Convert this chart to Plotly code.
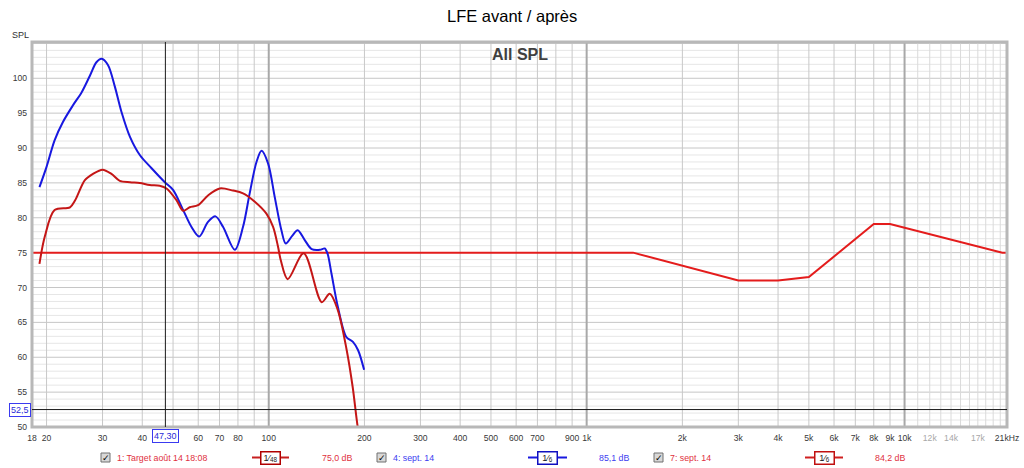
import math
import plotly.graph_objects as go

# ---------------- data ----------------
target_freq = [18, 1400, 3000, 4000, 5000, 8000, 9000, 20300, 21000]
target_spl = [75.0, 75.0, 71.0, 71.0, 71.5, 79.1, 79.1, 75.0, 75.0]

m4_freq = [19.0, 20.0, 21.2, 22.5, 24.2, 25.8, 27.4, 28.7, 29.8, 31.2, 32.8, 34.4, 36.6,
           39.3, 42.8, 47.1, 50.0, 53.8, 57.1, 60.4, 64.4, 68.0, 71.8, 78.2, 83.0, 87.1,
           91.5, 94.9, 99.5, 104.4, 109.6, 113.1, 118.5, 123.3, 129.8, 136.5, 145, 150,
           153, 157.5, 165, 175.4, 184, 191, 199.5]
m4_spl = [84.4, 87.3, 91.1, 93.7, 96.1, 98.0, 100.4, 102.3, 102.8, 101.9, 98.8, 95.2, 91.6,
          89.0, 87.1, 85.1, 84.0, 81.1, 78.7, 77.3, 79.4, 80.2, 78.7, 75.4, 78.7, 83.5,
          88.0, 89.6, 87.8, 83.0, 78.2, 76.3, 77.4, 78.2, 76.8, 75.5, 75.4, 75.6,
          74.9, 72.0, 67.2, 62.9, 62.2, 61.0, 58.2]

m7_freq = [19.0, 19.75, 21.2, 23.7, 24.6, 26.4, 28.0, 30.0, 32.0, 34.0, 36.6, 39.3, 42.2,
           45.4, 47.7, 51.3, 53.8, 56.4, 59.9, 64.4, 70.1, 77.2, 83.0, 90.4, 98.3, 103.2,
           107.0, 109.1, 114.7, 128.8, 146.8, 155.5, 164.8, 175.9, 183.7, 190.5, 194.7]
m7_spl = [73.4, 77.3, 81.1, 81.5, 82.5, 85.4, 86.3, 86.9, 86.3, 85.3, 85.1, 85.0, 84.7,
          84.6, 84.2, 82.5, 81.0, 81.5, 81.8, 83.2, 84.2, 83.9, 83.5, 82.3, 80.6, 78.7,
          75.8, 73.9, 71.2, 74.9, 67.9, 69.1, 66.8, 61.0, 55.7, 50.0, 47.9]

x_tick_vals = [18, 20, 30, 40, 60, 70, 80, 100, 200, 300, 400, 500, 600, 700, 900, 1000,
               2000, 3000, 4000, 5000, 6000, 7000, 8000, 9000, 10000, 12000, 14000, 17000, 21000]
x_tick_text = ["18", "20", "30", "40", "60", "70", "80", "100", "200", "300", "400", "500",
               "600", "700", "900", "1k", "2k", "3k", "4k", "5k", "6k", "7k", "8k", "9k",
               "10k", "12k", "14k", "17k", "21kHz"]
x_tick_faded = ["12k", "14k", "17k"]
y_tick_vals = [50, 55, 60, 65, 70, 75, 80, 85, 90, 95, 100]

legend_names = ["1: Target août 14 18:08", "4: sept. 14", "7: sept. 14"]
legend_smoothing = ["1/48", "1/6", "1/6"]
legend_levels = ["75,0 dB", "85,1 dB", "84,2 dB"]

cursor_freq = 47.3
cursor_spl = 52.5
cursor_freq_label = "47,30"
cursor_spl_label = "52,5"

title_text = "LFE avant / après"
inner_title = "All SPL"
y_label = "SPL"

# ---------------- styling / geometry ----------------
W, H = 1024, 468
L, R, T, B = 32, 17, 42, 41
PW, PH = W - L - R, H - T - B
FONT = "Liberation Sans, Arial, sans-serif"

BLUE = "#1818e0"
RED_M = "#c41616"
RED_T = "#e41c1c"
RED_TXT = "#e03040"
BLUE_TXT = "#3c3cf0"


def px(x):
    return (x - L) / PW


def py(y):
    return (H - B - y) / PH


fig = go.Figure()
fig.add_trace(go.Scatter(x=target_freq, y=target_spl, mode="lines",
                         line=dict(color=RED_T, width=2), hoverinfo="skip", showlegend=False))
fig.add_trace(go.Scatter(x=m4_freq, y=m4_spl, mode="lines",
                         line=dict(color=BLUE, width=2, shape="spline", smoothing=0.9),
                         hoverinfo="skip", showlegend=False))
fig.add_trace(go.Scatter(x=m7_freq, y=m7_spl, mode="lines",
                         line=dict(color=RED_M, width=2, shape="spline", smoothing=0.9),
                         hoverinfo="skip", showlegend=False))

shapes = []
# horizontal grid
for v in range(51, 106):
    major = v % 5 == 0
    shapes.append(dict(type="line", xref="paper", yref="y", x0=0, x1=1, y0=v, y1=v,
                       line=dict(color="#c6c6c6" if major else "#e6e6e6", width=1),
                       layer="below"))
# vertical grid
for dec in [10, 100, 1000]:
    for k in range(2, 10):
        f = k * dec
        if f < 18:
            continue
        shapes.append(dict(type="line", xref="x", yref="paper", x0=f, x1=f, y0=0, y1=1,
                           line=dict(color="#c8c8c8", width=1), layer="below"))
for f in [100, 1000, 10000]:
    shapes.append(dict(type="line", xref="x", yref="paper", x0=f, x1=f, y0=0, y1=1,
                       line=dict(color="#a8a8a8", width=2), layer="below"))
for k in range(11, 21):
    f = k * 1000
    shapes.append(dict(type="line", xref="x", yref="paper", x0=f, x1=f, y0=0, y1=1,
                       line=dict(color="#dadada", width=1), layer="below"))
# frame
shapes.append(dict(type="rect", xref="paper", yref="paper", x0=0, x1=1, y0=0, y1=1,
                   line=dict(color="#b8b8b8", width=3), layer="above"))
# cursors
shapes.append(dict(type="line", xref="x", yref="paper", x0=cursor_freq, x1=cursor_freq,
                   y0=0, y1=1, line=dict(color="#1a1a1a", width=1)))
shapes.append(dict(type="line", xref="paper", yref="y", x0=0, x1=1, y0=cursor_spl,
                   y1=cursor_spl, line=dict(color="#1a1a1a", width=1)))

annotations = []
annotations.append(dict(text=title_text, xref="paper", yref="paper", x=px(511.5), y=py(16),
                        showarrow=False, xanchor="center", yanchor="middle",
                        font=dict(family=FONT, size=16.5, color="#000000")))
annotations.append(dict(text="<b>" + inner_title + "</b>", xref="paper", yref="paper",
                        x=px(519.5), y=py(54), showarrow=False, xanchor="center",
                        yanchor="middle", font=dict(family=FONT, size=16, color="#404040")))
annotations.append(dict(text=y_label, xref="paper", yref="paper", x=px(20), y=py(35),
                        showarrow=False, xanchor="center", yanchor="middle",
                        font=dict(family=FONT, size=9, color="#303030")))
# cursor labels
annotations.append(dict(text=cursor_freq_label, xref="x", yref="paper",
                        x=math.log10(cursor_freq), y=py(435.5), showarrow=False,
                        xanchor="center", yanchor="middle", bgcolor="#ffffff",
                        bordercolor="#3a3af0", borderwidth=1, borderpad=1,
                        font=dict(family=FONT, size=9, color="#2a2ad8")))
annotations.append(dict(text=cursor_spl_label, xref="paper", yref="y", x=px(19.5),
                        y=cursor_spl, showarrow=False, xanchor="center", yanchor="middle",
                        bgcolor="#ffffff", bordercolor="#3a3af0", borderwidth=1, borderpad=1,
                        font=dict(family=FONT, size=9, color="#2a2ad8")))

# legend (custom, bottom row)
leg_y = 457.5
leg_items = [
    dict(cb=101, name_x=115, line=(252, 289), box=270.5, lvl_x=320,
         txt=RED_TXT, lc="#c82020", bc="#b00000"),
    dict(cb=377, name_x=391, line=(528, 567), box=547.5, lvl_x=597,
         txt=BLUE_TXT, lc=BLUE, bc="#1010c0"),
    dict(cb=654, name_x=668, line=(805, 843), box=824, lvl_x=873,
         txt=RED_TXT, lc="#d02020", bc="#c01010"),
]
for it, name, sm, lvl in zip(leg_items, legend_names, legend_smoothing, legend_levels):
    shapes.append(dict(type="rect", xref="paper", yref="paper",
                       x0=px(it["cb"]), x1=px(it["cb"] + 9),
                       y0=py(leg_y - 4.5), y1=py(leg_y + 4.5),
                       fillcolor="#d8d8d8", line=dict(color="#707070", width=1)))
    annotations.append(dict(text="✓", xref="paper", yref="paper", x=px(it["cb"] + 4.5),
                            y=py(leg_y), showarrow=False, xanchor="center", yanchor="middle",
                            font=dict(family="DejaVu Sans", size=9, color="#000000")))
    annotations.append(dict(text=name, xref="paper", yref="paper", x=px(it["name_x"]),
                            y=py(leg_y), showarrow=False, xanchor="left", yanchor="middle",
                            font=dict(family=FONT, size=8.8, color=it["txt"])))
    shapes.append(dict(type="line", xref="paper", yref="paper", x0=px(it["line"][0]),
                       x1=px(it["line"][1]), y0=py(leg_y), y1=py(leg_y),
                       line=dict(color=it["lc"], width=2)))
    num, den = sm.split("/")
    annotations.append(dict(text=num + "⁄<sub>" + den + "</sub>", xref="paper", yref="paper",
                            x=px(it["box"]), y=py(leg_y), showarrow=False, xanchor="center",
                            yanchor="middle", bgcolor="#ffffff", bordercolor=it["bc"],
                            borderwidth=1.5, borderpad=0, width=18,
                            font=dict(family=FONT, size=9, color="#202020")))
    annotations.append(dict(text=lvl, xref="paper", yref="paper", x=px(it["lvl_x"]),
                            y=py(leg_y), showarrow=False, xanchor="left", yanchor="middle",
                            font=dict(family=FONT, size=8.8, color=it["txt"])))

tick_text_styled = [('<span style="color:#a8a8a8">' + t + "</span>") if t in x_tick_faded else t
                    for t in x_tick_text]

fig.update_layout(
    width=W, height=H, autosize=False,
    margin=dict(l=L, r=R, t=T, b=B, pad=0, autoexpand=False),
    paper_bgcolor="#ffffff", plot_bgcolor="#ffffff",
    showlegend=False,
    shapes=shapes, annotations=annotations,
    xaxis=dict(type="log", range=[math.log10(18), math.log10(21000)],
               tickmode="array", tickvals=x_tick_vals, ticktext=tick_text_styled,
               showgrid=False, zeroline=False, showline=False, ticks="",
               ticklabelstandoff=4, automargin=False,
               tickfont=dict(family=FONT, size=8.6, color="#383838")),
    yaxis=dict(range=[50, 105.2], tickmode="array", tickvals=y_tick_vals,
               showgrid=False, zeroline=False, showline=False, ticks="",
               ticklabelstandoff=4, automargin=False,
               tickfont=dict(family=FONT, size=8.6, color="#383838")),
)

fig.write_html("out.html", config={"displayModeBar": False},
               post_script="document.body.style.margin='0';document.body.style.overflow='hidden';")
